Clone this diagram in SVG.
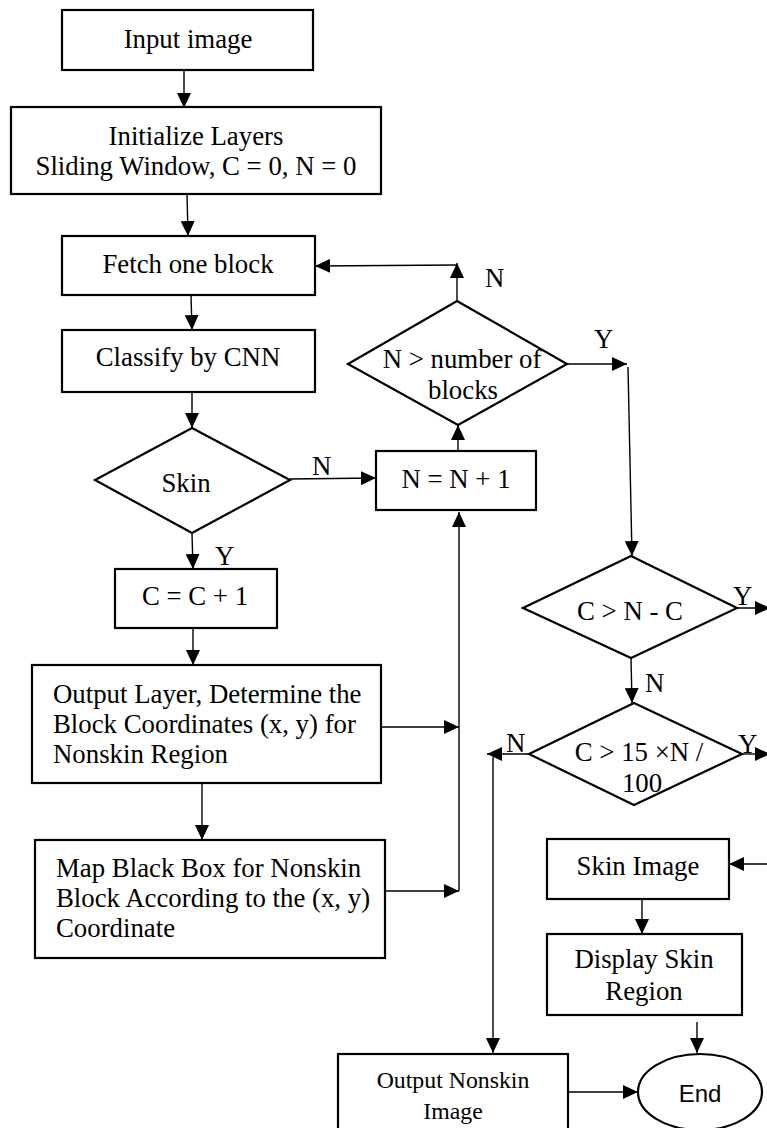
<svg xmlns="http://www.w3.org/2000/svg" width="767" height="1128" viewBox="0 0 767 1128">
<style>
.box{fill:#fff;stroke:#000;stroke-width:2.2}
.con{fill:none;stroke:#000;stroke-width:1.4}
.t{font-family:"Liberation Serif","Times New Roman",serif;font-size:26.8px;fill:#000}
.c{text-anchor:middle}
.s{font-family:"Liberation Sans",Arial,sans-serif;font-size:24px;fill:#000;text-anchor:middle}
</style>
<defs>
<marker id="ah" markerUnits="userSpaceOnUse" markerWidth="16" markerHeight="14" refX="15" refY="7" orient="auto">
<path d="M0,0 L15,7 L0,14 Z" fill="#000"/>
</marker>
</defs>
<rect width="767" height="1128" fill="#fff"/>
<g id="connectors">
<polyline class="con" points="184,70 184,108" marker-end="url(#ah)"/>
<polyline class="con" points="187,194 188,236" marker-end="url(#ah)"/>
<polyline class="con" points="191,295 192,330" marker-end="url(#ah)"/>
<polyline class="con" points="192,392 192,428" marker-end="url(#ah)"/>
<polyline class="con" points="290,479 376,478" marker-end="url(#ah)"/>
<polyline class="con" points="192,533 193,569" marker-end="url(#ah)"/>
<polyline class="con" points="193,628 193,665" marker-end="url(#ah)"/>
<polyline class="con" points="202,783 202,840" marker-end="url(#ah)"/>
<polyline class="con" points="381,727 459,727" marker-end="url(#ah)"/>
<polyline class="con" points="385,891 459,891" marker-end="url(#ah)"/>
<polyline class="con" points="459,891 459,512" marker-end="url(#ah)"/>
<polyline class="con" points="458,451 458,425" marker-end="url(#ah)"/>
<polyline class="con" points="457,301 457,263" marker-end="url(#ah)"/>
<polyline class="con" points="457,265 315,266" marker-end="url(#ah)"/>
<polyline class="con" points="567,364 627,364" marker-end="url(#ah)"/>
<polyline class="con" points="628,367 632,556" marker-end="url(#ah)"/>
<polyline class="con" points="737,608 770,608" marker-end="url(#ah)"/>
<polyline class="con" points="631,658 632,703" marker-end="url(#ah)"/>
<polyline class="con" points="742,754 770,754" marker-end="url(#ah)"/>
<polyline class="con" points="529,754 487,754" marker-end="url(#ah)"/>
<polyline class="con" points="493,757 493,1053" marker-end="url(#ah)"/>
<polyline class="con" points="767,864 729,864" marker-end="url(#ah)"/>
<polyline class="con" points="642,899 642,934" marker-end="url(#ah)"/>
<polyline class="con" points="697,1022 697,1053" marker-end="url(#ah)"/>
<polyline class="con" points="568,1092 638,1092" marker-end="url(#ah)"/>
</g>
<g id="input">
<rect class="box" x="62" y="10" width="251" height="60"/>
<text class="t c" x="188" y="48">Input image</text>
</g>
<g id="init">
<rect class="box" x="11" y="107" width="370" height="87"/>
<text class="t c" x="196" y="145">Initialize Layers</text>
<text class="t c" x="196" y="175">Sliding Window, C = 0, N = 0</text>
</g>
<g id="fetch">
<rect class="box" x="62" y="236" width="253" height="59"/>
<text class="t c" x="188" y="273">Fetch one block</text>
</g>
<g id="classify">
<rect class="box" x="62" y="330" width="253" height="62"/>
<text class="t c" x="188" y="366">Classify by CNN</text>
</g>
<g id="skin">
<polygon class="box" points="192,428 290,480 192,533 95,480"/>
<text class="t c" x="186" y="492">Skin</text>
</g>
<g id="cinc">
<rect class="box" x="115" y="569" width="162" height="59"/>
<text class="t c" x="195" y="605">C = C + 1</text>
</g>
<g id="outlayer">
<rect class="box" x="32" y="665" width="349" height="118"/>
<text class="t" x="53" y="703">Output Layer, Determine the</text>
<text class="t" x="53" y="733">Block Coordinates (x, y) for</text>
<text class="t" x="53" y="763">Nonskin Region</text>
</g>
<g id="map">
<rect class="box" x="35" y="840" width="350" height="118"/>
<text class="t" x="56" y="877">Map Black Box for Nonskin</text>
<text class="t" x="56" y="907">Block According to the (x, y)</text>
<text class="t" x="56" y="937">Coordinate</text>
</g>
<g id="ninc">
<rect class="box" x="376" y="451" width="160" height="59"/>
<text class="t c" x="456" y="488">N = N + 1</text>
</g>
<g id="nblocks">
<polygon class="box" points="457,301 567,364 458,425 348,364"/>
<text class="t c" x="462" y="368">N &gt; number of</text>
<text class="t c" x="463" y="399">blocks</text>
</g>
<g id="cnc">
<polygon class="box" points="631,556 737,608 631,658 523,608"/>
<text class="t c" x="630" y="620">C &gt; N - C</text>
</g>
<g id="c15">
<polygon class="box" points="634,703 742,754 634,805 529,754"/>
<text class="t c" x="639" y="761">C &gt; 15 ×N /</text>
<text class="t c" x="642" y="792">100</text>
</g>
<g id="skinimage">
<rect class="box" x="547" y="839" width="182" height="60"/>
<text class="t c" x="638" y="875">Skin Image</text>
</g>
<g id="display">
<rect class="box" x="547" y="934" width="195" height="81"/>
<text class="t c" x="644" y="968">Display Skin</text>
<text class="t c" x="644" y="1000">Region</text>
</g>
<g id="outnonskin">
<rect class="box" x="338" y="1054" width="230" height="90"/>
<text class="t c" x="453" y="1088" style="font-size:23.8px">Output Nonskin</text>
<text class="t c" x="453" y="1119" style="font-size:23.8px">Image</text>
</g>
<g id="end">
<ellipse class="box" cx="700" cy="1092" rx="62" ry="38"/>
<text class="s" x="700" y="1102">End</text>
</g>
<g id="labels">
<text class="t" x="485" y="287">N</text>
<text class="t" x="594" y="348">Y</text>
<text class="t" x="312" y="475">N</text>
<text class="t" x="215" y="565">Y</text>
<text class="t" x="733" y="605">Y</text>
<text class="t" x="645" y="692">N</text>
<text class="t" x="506" y="752">N</text>
<text class="t" x="738" y="753">Y</text>
</g>
</svg>
